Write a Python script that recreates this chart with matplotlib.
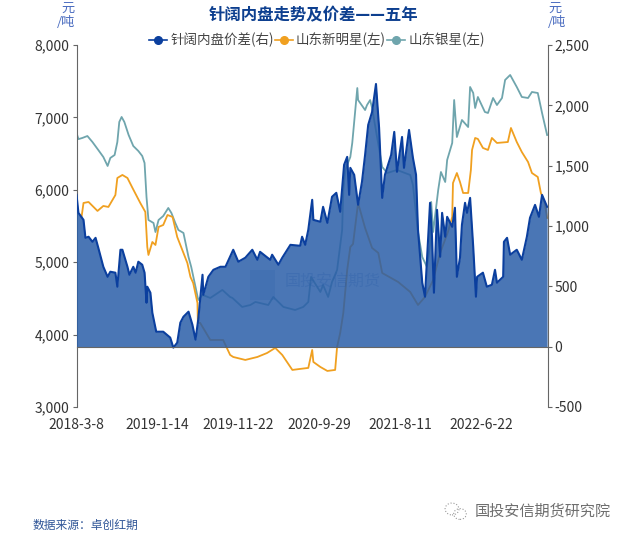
import matplotlib
matplotlib.use("Agg")
import matplotlib.pyplot as plt
from matplotlib.lines import Line2D
from matplotlib.patches import Circle, Rectangle

plt.rcParams['font.family'] = ['Noto Sans CJK SC', 'DejaVu Sans']

tick_dates = ["2018-3-8", "2019-1-14", "2019-11-22", "2020-9-29", "2021-8-11", "2022-6-22"]
tick_idx = [0, 208, 416, 624, 832, 1040]
left_ticks = [3000, 4000, 5000, 6000, 7000, 8000]
right_ticks = [-500, 0, 500, 1000, 1500, 2000, 2500]

silver_x = [0,5,15,28,41,56,69,80,87,98,105,110,116,123,134,146,159,169,175,180,185,198,203,211,223,236,244,254,262,275,288,295,306,313,324,344,375,395,401,426,447,460,493,506,532,562,583,596,603,627,634,647,657,670,683,686,691,704,709,722,724,742,747,755,760,786,799,824,858,865,878,889,901,909,912,917,930,937,948,953,966,971,978,991,1007,1012,1020,1025,1032,1050,1058,1071,1081,1094,1102,1115,1132,1145,1161,1171,1186,1197,1210]
silver_y = [6785,6700,6716,6743,6660,6550,6453,6329,6440,6481,6660,6937,7006,6937,6757,6605,6536,6467,6370,5901,5583,5542,5417,5583,5638,5749,5680,5542,5445,5404,5072,4934,4658,4478,4548,4506,4617,4520,4506,4382,4409,4451,4409,4520,4382,4340,4382,4451,4796,4589,4686,4520,4727,4893,5445,5998,6274,6453,6647,7406,7240,7102,7171,7240,7130,6315,6232,6274,6205,6067,5417,5072,4934,5238,5832,5417,5998,6246,6108,6412,6647,7240,6729,6964,6867,7420,7337,7130,7282,7075,7061,7268,7171,7268,7517,7586,7420,7282,7268,7351,7337,7061,6757]

orange_x = [13,18,31,54,69,82,100,105,118,131,144,164,177,182,185,195,203,211,223,234,247,259,272,285,293,300,311,312,318,344,377,395,403,434,465,490,511,529,555,575,596,606,609,627,645,665,670,678,686,696,704,711,724,742,760,776,786,827,858,878,896,917,935,955,966,968,978,986,994,1007,1014,1017,1025,1032,1045,1058,1068,1081,1109,1117,1132,1145,1161,1171,1186,1194,1204,1210]
orange_y = [5625,5818,5832,5708,5777,5763,5928,6163,6205,6163,6025,5818,5694,5210,5100,5279,5238,5487,5514,5652,5625,5348,5169,4989,4796,4713,4437,4161,4161,3926,3926,3719,3691,3650,3691,3746,3816,3719,3512,3526,3540,3788,3622,3553,3498,3512,3829,4023,4299,4893,5210,5252,5818,5473,5197,5128,4851,4727,4589,4409,4520,4755,5128,5417,5625,6094,6232,6108,5956,5956,6274,6550,6716,6702,6578,6550,6716,6647,6660,6854,6660,6522,6384,6232,6177,5956,5818,5611]

spread_x = [0,5,18,23,31,41,49,56,69,80,87,100,105,113,118,131,136,146,152,159,169,175,180,182,190,195,205,223,241,249,259,267,275,288,298,306,313,324,326,339,352,370,383,403,416,434,452,465,472,498,503,519,529,550,575,580,588,596,606,609,627,634,645,657,668,678,688,696,701,704,714,724,734,742,750,760,770,778,786,793,809,817,824,837,842,855,865,873,878,889,896,909,914,919,927,935,940,948,953,966,973,978,986,991,999,1004,1012,1020,1027,1030,1045,1055,1068,1076,1081,1097,1099,1107,1115,1132,1145,1158,1166,1179,1189,1197,1210]
spread_y = [1258,1109,1051,902,911,869,902,820,662,579,621,613,497,803,803,662,596,662,613,704,679,613,364,497,447,281,124,124,75,-8,33,199,248,290,182,58,224,596,430,579,637,662,662,803,704,737,803,720,786,720,762,679,737,844,836,911,844,969,1217,1051,1035,1159,1026,1242,1275,1118,1507,1573,1258,1482,1424,1176,1366,1589,1838,1945,2177,1813,1233,1424,1589,1780,1449,1738,1482,1796,1565,1424,969,530,414,1192,911,447,1134,745,1109,911,1076,993,1151,579,737,1010,1192,1109,1233,828,414,579,613,497,513,637,530,579,869,902,762,803,720,911,1068,1175,1076,1258,1159]

W, H = 630, 539
fig = plt.figure(figsize=(W / 100, H / 100), dpi=100, facecolor="white")
rect = [76.5 / W, 1 - 407 / H, (547.5 - 76.5) / W, (407 - 45) / H]
ax1 = fig.add_axes(rect)
ax2 = ax1.twinx()

NAVY = "#0b3f9e"
ORANGE = "#f0a020"
TEAL = "#6fa5ad"
AXIS = "#666666"
TXT = "#333333"

ax1.plot(silver_x, silver_y, color=TEAL, lw=1.3)
ax1.plot(orange_x, orange_y, color=ORANGE, lw=1.3)
ax2.fill_between(spread_x, spread_y, 0, color="#2A5EA8", alpha=0.85, lw=0)
ax2.plot(spread_x, spread_y, color=NAVY, lw=1.5)

ax1.set_xlim(0, 1211)
ax1.set_ylim(3000, 8000)
ax2.set_ylim(-500, 2500)

for s in ("top", "bottom"):
    ax1.spines[s].set_visible(False)
ax2.spines["top"].set_visible(False)
ax1.spines["left"].set_color(AXIS)
ax1.spines["right"].set_visible(False)
ax2.spines["left"].set_visible(False)
ax2.spines["right"].set_color(AXIS)
ax2.spines["bottom"].set_position(("data", 0))
ax2.spines["bottom"].set_color(AXIS)

ax1.set_yticks(left_ticks)
ax1.set_yticklabels([f"{v:,}" for v in left_ticks])
ax2.set_yticks(right_ticks)
ax2.set_yticklabels([f"{v:,}" for v in right_ticks])
ax1.tick_params(axis="y", length=3, color=AXIS, labelcolor=TXT, labelsize=10, pad=2)
ax2.tick_params(axis="y", length=3, color=AXIS, labelcolor=TXT, labelsize=10, pad=2)

ax1.set_xticks(tick_idx)
ax1.set_xticklabels(tick_dates)
ax1.tick_params(axis="x", length=0, labelcolor=TXT, labelsize=10, pad=8)
ax2.set_xticks(tick_idx)
ax2.tick_params(axis="x", length=3, color=AXIS, labelbottom=False, direction="out")

handles = [Line2D([], [], color=NAVY, marker="o", ms=5.5, lw=1.2),
           Line2D([], [], color=ORANGE, marker="o", ms=5.5, lw=1.2),
           Line2D([], [], color=TEAL, marker="o", ms=5.5, lw=1.2)]
fig.legend(handles, ["针阔内盘价差(右)", "山东新明星(左)", "山东银星(左)"],
           ncol=3, loc="center", bbox_to_anchor=(317 / W, 1 - 40 / H), frameon=False,
           fontsize=9.7, labelcolor="#444444", handlelength=1.3, handletextpad=0.25,
           columnspacing=0.1, borderpad=0)

fig.text(314 / W, 1 - 15 / H, "针阔内盘走势及价差——五年", ha="center", va="center",
         fontsize=11.8, fontweight="bold", color="#0d3f8f")
UNIT = "#4a6cc0"
fig.text(75 / W, 1 - 8 / H, "元", ha="right", va="center", fontsize=9.5, color=UNIT)
fig.text(75 / W, 1 - 23 / H, "/吨", ha="right", va="center", fontsize=9.5, color=UNIT)
fig.text(548 / W, 1 - 8 / H, "元", ha="left", va="center", fontsize=9.5, color=UNIT)
fig.text(548 / W, 1 - 23 / H, "/吨", ha="left", va="center", fontsize=9.5, color=UNIT)
fig.text(33 / W, 1 - 525 / H, "数据来源：卓创红期", ha="left", va="center", fontsize=8.5, color="#2f5597")
fig.text(475 / W, 1 - 511 / H, "国投安信期货研究院", ha="left", va="center", fontsize=10.9, color="#6f6f6f")

# faint watermark inside the chart
fig.text(285 / W, 1 - 282 / H, "国投安信期货", ha="left", va="center", fontsize=11.5, color="#2A5EA8", alpha=0.3)
fig.add_artist(Rectangle((250 / W, 1 - 300 / H), 25 / W, 30 / H, transform=fig.transFigure,
                         facecolor="#2A5EA8", alpha=0.2, lw=0))

# small social icon beside the bottom-right caption
fig.add_artist(Circle((452 / W, 1 - 509 / H), 0.011, transform=fig.transFigure,
                      facecolor="none", edgecolor="#999999", lw=0.8, ls=":"))
fig.add_artist(Circle((460 / W, 1 - 514 / H), 0.010, transform=fig.transFigure,
                      facecolor="none", edgecolor="#999999", lw=0.8, ls=":"))

fig.savefig("out.png", dpi=100)
